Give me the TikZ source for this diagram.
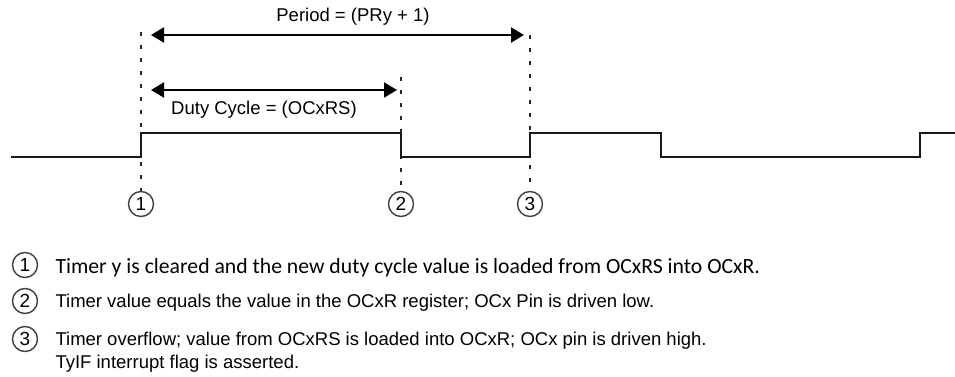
\documentclass[tikz,border=0pt]{standalone}
\usepackage{fontspec}
\setmainfont{Liberation Sans}
\newfontfamily\notefont{Carlito}
\usetikzlibrary{arrows.meta}

\begin{document}
\begin{tikzpicture}[x=1pt,y=-1pt,
    wave/.style={line width=2pt,black!90},
    guide/.style={line width=2pt,black!85,dash pattern=on 4pt off 9pt},
    span/.style={line width=2pt,{Triangle[length=13pt,width=15pt]}-{Triangle[length=13pt,width=15pt]}},
    numcirc/.style={circle,draw=black!75,line width=1.4pt,inner sep=0pt,minimum size=25pt,font=\fontsize{19}{19}\selectfont},
    lbl/.style={font=\fontsize{18.5}{18.5}\selectfont}]
    \useasboundingbox (0,0) rectangle (955,377);

    % Markers 1, 2, 3 and their guides
    \foreach \n/\x/\top in {1/141/32, 2/401/77, 3/530/35} {
        \node[numcirc] (c\n) at (\x,204) {\n};
        \coordinate (t\n) at (\x,\top);
        \draw[guide] (t\n) -- (c\n.north);
    }

    % Signal
    \draw[wave] (11,157) -- (141,157) -- (141,133) -- (401,133) -- (401,157)
        -- (530,157) -- (530,133) -- (661,133) -- (661,157) -- (920,157)
        -- (920,133) -- (955,133);

    % Period and duty cycle
    \coordinate (pa) at (151,35);
    \coordinate (pb) at (524,35);
    \coordinate (da) at (151,90);
    \coordinate (db) at (397,90);
    \draw[span] (pa) -- (pb);
    \draw[span] (da) -- (db);
    \node[lbl] (period) at (353,17) {Period = (PRy + 1)};
    \node[lbl] (duty) at (264,110) {Duty Cycle = (OCxRS)};

    % Notes
    \foreach \n/\y in {1/265, 2/301, 3/339} {
        \node[numcirc] (k\n) at (25,\y) {\n};
    }
    \node[anchor=base west,font=\notefont\fontsize{21.7}{21.7}\selectfont] (note1) at (52,273)
        {Timer y is cleared and the new duty cycle value is loaded from OCxRS into OCxR.};
    \node[anchor=base west,lbl] (note2) at (52,307)
        {Timer value equals the value in the OCxR register; OCx Pin is driven low.};
    \node[anchor=base west,lbl] (note3) at (52,345)
        {Timer overflow; value from OCxRS is loaded into OCxR; OCx pin is driven high.};
    \node[anchor=base west,lbl] (note4) at (52,368)
        {TyIF interrupt flag is asserted.};
\end{tikzpicture}
\end{document}
